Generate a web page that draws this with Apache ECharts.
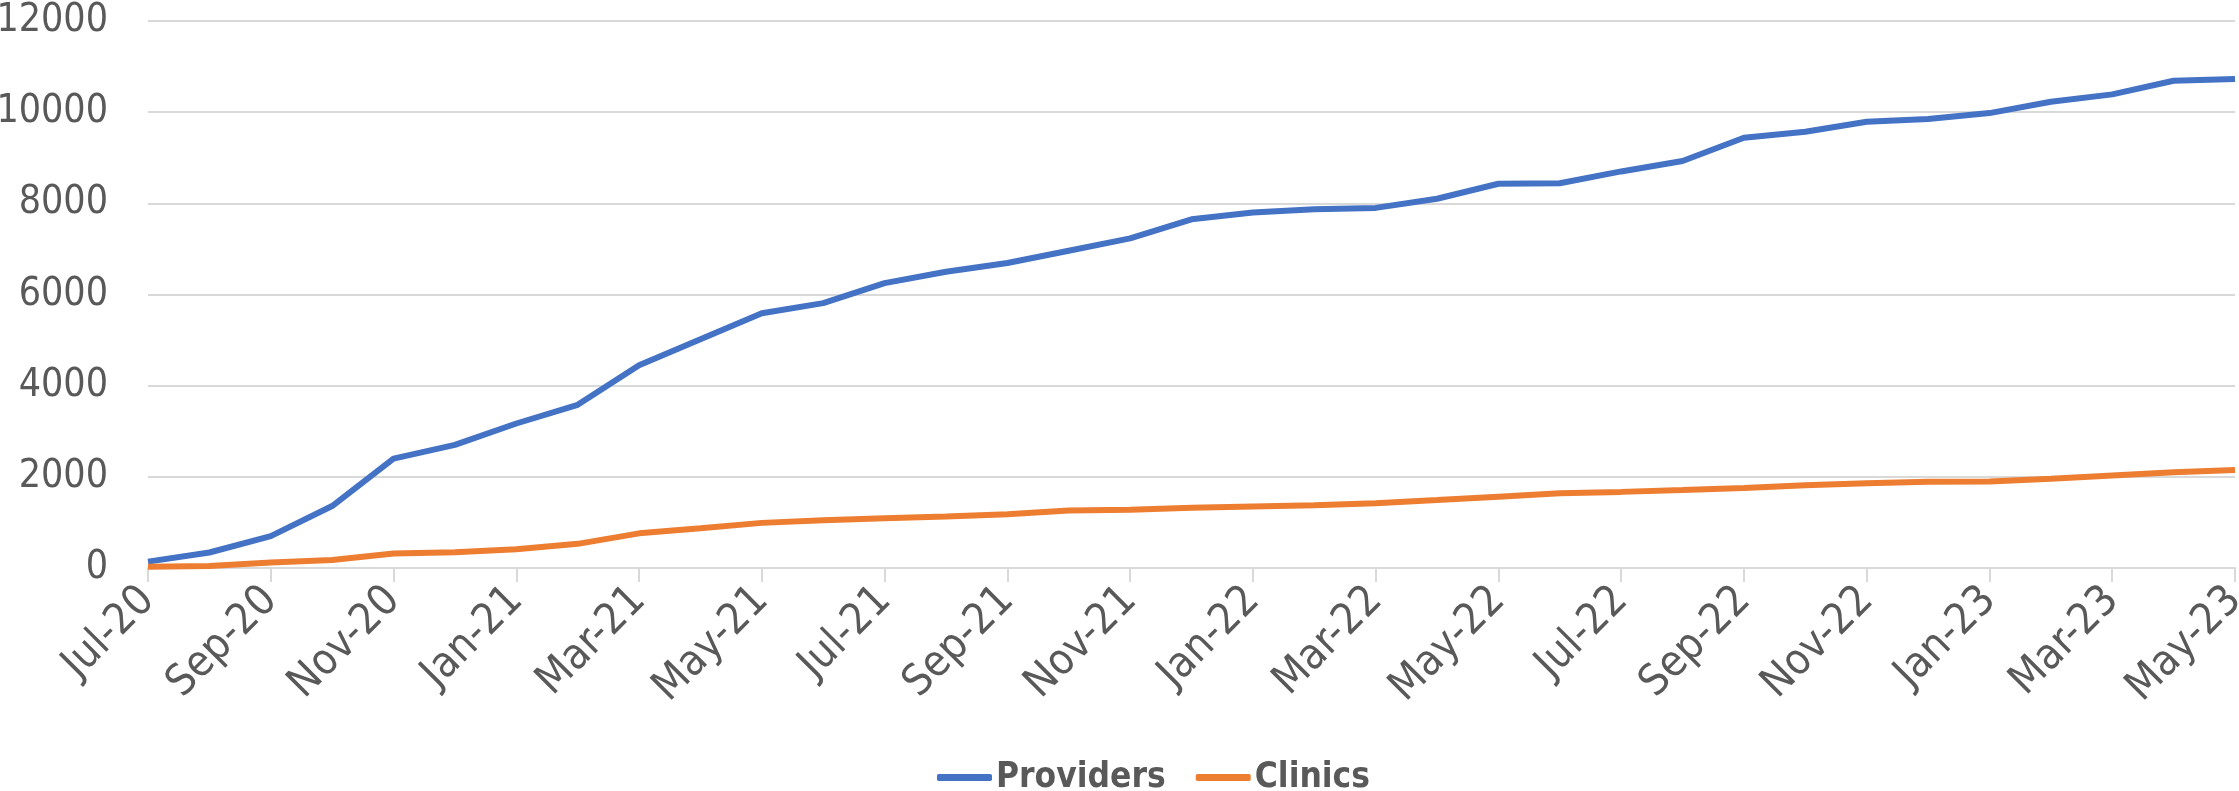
<!DOCTYPE html>
<html style="height: 100%">
<head>
    <meta charset="UTF-8">
</head>
<body style="height: 100%; margin: 0; background: #fff">
    <div id="container" style="width: 2239px; height: 791px"></div>
    <script type="text/javascript" src="https://cdn.jsdelivr.net/npm/echarts@6.0.0/dist/echarts.min.js"></script>
    <script type="text/javascript">
    var months = ['Jul-20', 'Aug-20', 'Sep-20', 'Oct-20', 'Nov-20', 'Dec-20',
        'Jan-21', 'Feb-21', 'Mar-21', 'Apr-21', 'May-21', 'Jun-21',
        'Jul-21', 'Aug-21', 'Sep-21', 'Oct-21', 'Nov-21', 'Dec-21',
        'Jan-22', 'Feb-22', 'Mar-22', 'Apr-22', 'May-22', 'Jun-22',
        'Jul-22', 'Aug-22', 'Sep-22', 'Oct-22', 'Nov-22', 'Dec-22',
        'Jan-23', 'Feb-23', 'Mar-23', 'Apr-23', 'May-23'];
    var providers = [140, 340, 700, 1360, 2400, 2700, 3170, 3580, 4450, 5020,
        5590, 5810, 6250, 6500, 6690, 6960, 7230, 7650, 7800, 7870,
        7900, 8100, 8430, 8440, 8700, 8930, 9440, 9570, 9790, 9850,
        9980, 10230, 10390, 10690, 10730];
    var clinics = [30, 45, 120, 175, 320, 345, 410, 530, 760, 870,
        990, 1050, 1090, 1130, 1180, 1260, 1280, 1320, 1350, 1375,
        1420, 1490, 1565, 1640, 1670, 1710, 1755, 1815, 1860, 1890,
        1900, 1960, 2030, 2100, 2150];
    var yTicks = [0, 2000, 4000, 6000, 8000, 10000, 12000];

    var font = "'Liberation Sans Narrow', 'DejaVu Sans Condensed', Roboto, sans-serif";
    var grey = '#595959';

    var myChart = echarts.init(document.getElementById('container'));
    var option = {
        animation: false,
        color: ['#4472c4', '#ed7d31'],
        grid: { left: 148, right: 4, top: 21, bottom: 223, containLabel: false, outerBoundsMode: 'none' },
        legend: {
            left: 932,
            top: 755,
            icon: 'roundRect',
            itemWidth: 55,
            itemHeight: 7,
            itemGap: 30,
            textStyle: { color: grey, fontFamily: font, fontSize: 35, fontWeight: 'bold', padding: [0, 0, 0, -1] },
            data: ['Providers', 'Clinics']
        },
        xAxis: {
            type: 'category',
            data: months,
            boundaryGap: false,
            axisLine: { lineStyle: { color: '#d9d9d9', width: 2 } },
            axisTick: { interval: 1, length: 14, lineStyle: { color: '#d9d9d9', width: 2 } },
            axisLabel: {
                interval: 1,
                rotate: 45,
                margin: 26,
                color: grey,
                fontFamily: font,
                fontSize: 43
            },
            splitLine: { show: false }
        },
        yAxis: {
            type: 'value',
            min: yTicks[0],
            max: yTicks[yTicks.length - 1],
            interval: 2000,
            axisLine: { show: false },
            axisTick: { show: false },
            axisLabel: {
                color: grey, fontFamily: font, fontSize: 39, margin: 40,
                formatter: function (v) { return String(v); }
            },
            splitLine: { lineStyle: { color: '#d9d9d9', width: 2 } }
        },
        series: [
            {
                name: 'Providers',
                type: 'line',
                data: providers,
                showSymbol: false,
                lineStyle: { width: 6 }
            },
            {
                name: 'Clinics',
                type: 'line',
                data: clinics,
                showSymbol: false,
                lineStyle: { width: 6 }
            }
        ]
    };
    myChart.setOption(option);
    </script>
</body>
</html>
